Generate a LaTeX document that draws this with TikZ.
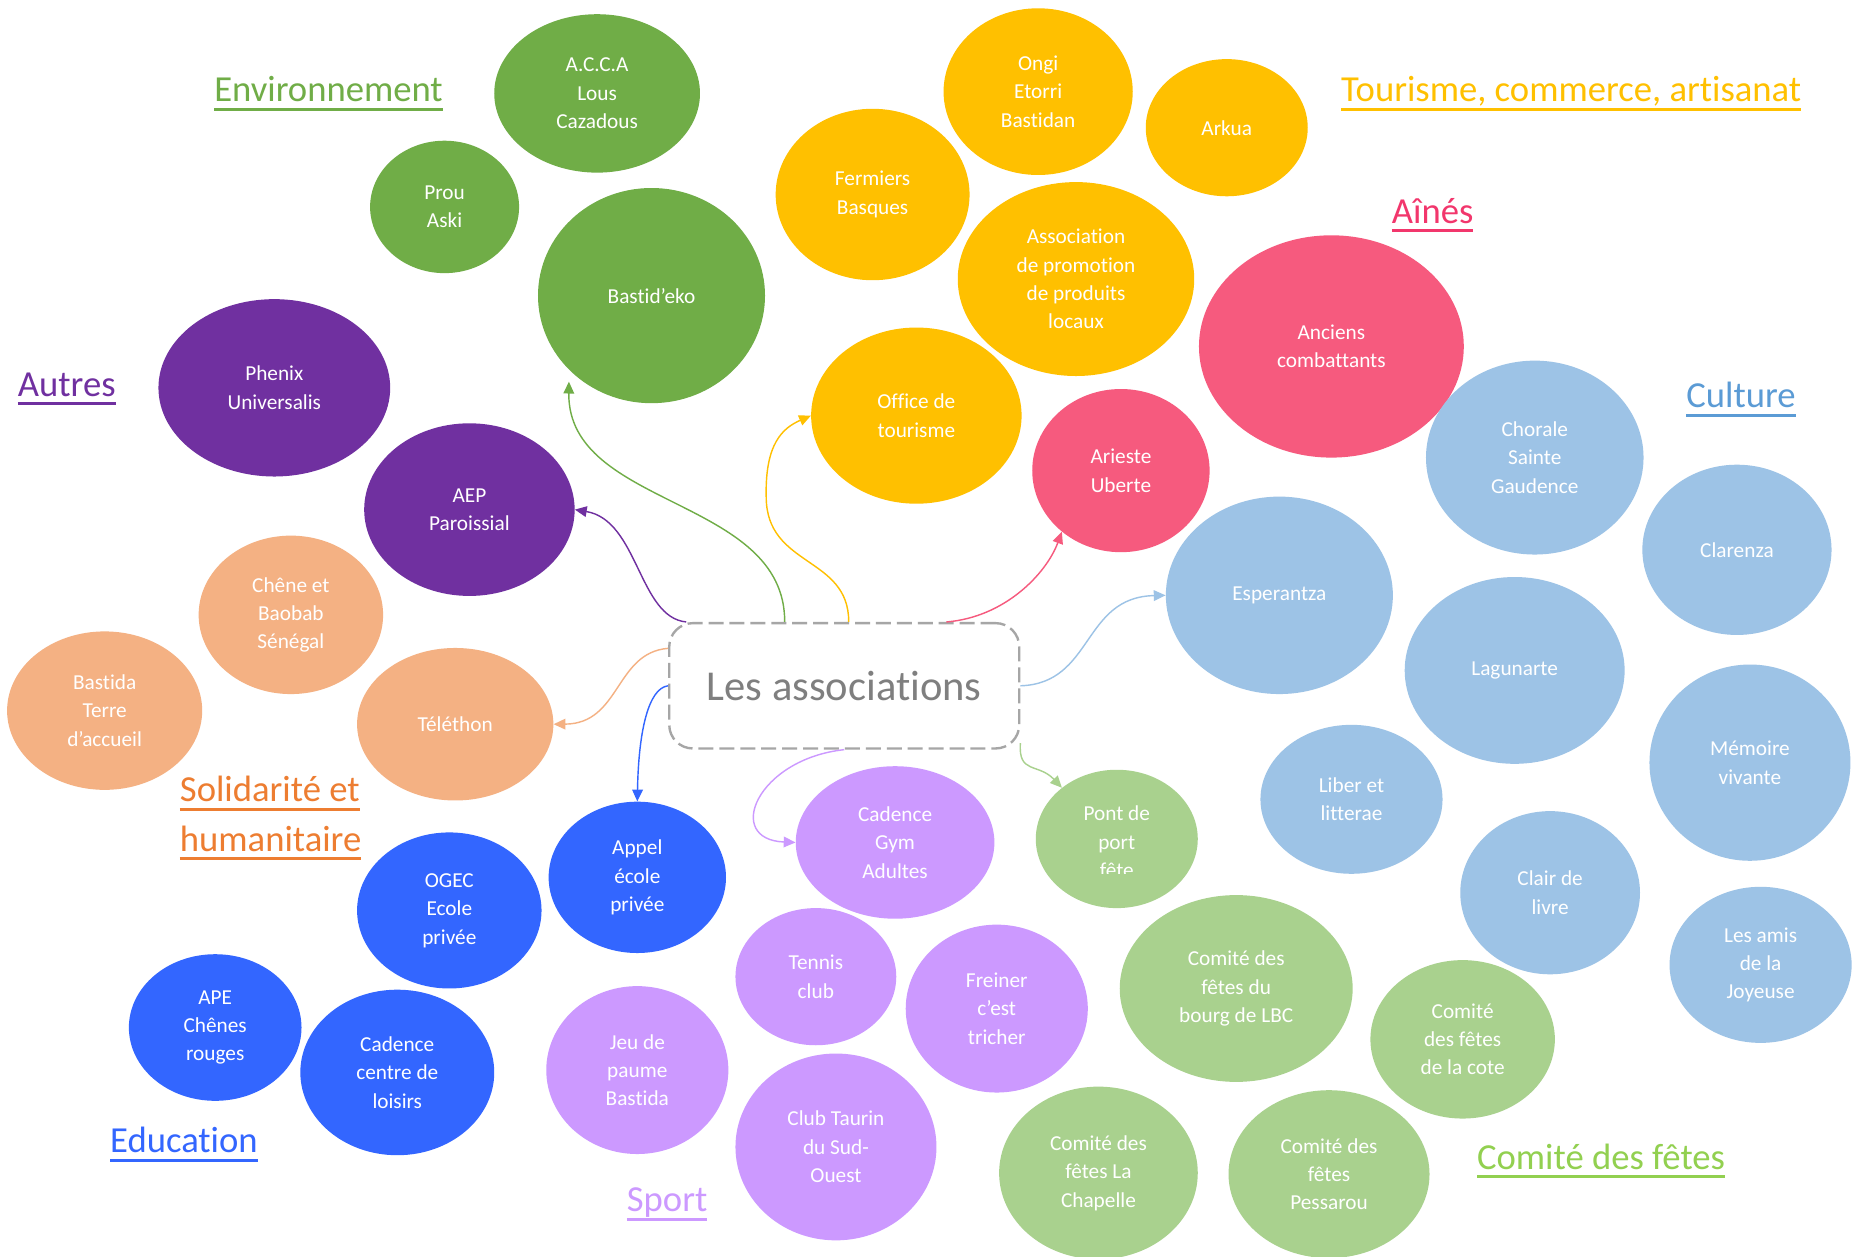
\documentclass[tikz,border=0pt]{standalone}
\usepackage{fontspec}
\setmainfont{Carlito}[Ligatures=NoCommon]
\usetikzlibrary{arrows.meta,shapes.geometric}
\definecolor{envgreen}{HTML}{70AD47}
\definecolor{tourgold}{HTML}{FFC000}
\definecolor{ainepink}{HTML}{F65A7E}
\definecolor{ainetext}{HTML}{F2366C}
\definecolor{cultblue}{HTML}{9DC3E6}
\definecolor{culttext}{HTML}{5B9BD5}
\definecolor{fetegreen}{HTML}{A9D18E}
\definecolor{fetetext}{HTML}{92D050}
\definecolor{sportlila}{HTML}{CC99FF}
\definecolor{educblue}{HTML}{3366FF}
\definecolor{solipeach}{HTML}{F4B183}
\definecolor{solitext}{HTML}{ED7D31}
\definecolor{autreviolet}{HTML}{7030A0}
\definecolor{boxgray}{HTML}{A6A6A6}
\definecolor{titlegray}{HTML}{7F7F7F}
% underlined group title
\newsavebox{\lblbox}
\newcommand{\ulabel}[1]{\sbox{\lblbox}{#1}\rlap{\rule[-7.5pt]{\wd\lblbox}{2.5pt}}\usebox{\lblbox}}

\begin{document}
\begin{tikzpicture}[x=1pt,y=-1pt,
  asso/.style={ellipse,inner sep=0pt,text=white,align=center,
               font=\fontsize{18}{24}\selectfont},
  env/.style={asso,fill=envgreen},
  tour/.style={asso,fill=tourgold},
  aine/.style={asso,fill=ainepink},
  cult/.style={asso,fill=cultblue},
  fete/.style={asso,fill=fetegreen},
  sport/.style={asso,fill=sportlila},
  educ/.style={asso,fill=educblue},
  soli/.style={asso,fill=solipeach},
  autre/.style={asso,fill=autreviolet},
  cat/.style={anchor=base west,inner sep=0pt,font=\fontsize{31}{42}\selectfont},
  hub/.style={draw=boxgray,line width=2pt,dash pattern=on 12.7pt off 5pt,
              rounded corners=20pt,minimum width=296,minimum height=106,
              text=titlegray,font=\fontsize{36}{43}\selectfont},
  arr/.style={-{Triangle[length=10pt,width=9pt]},line width=1.2pt},
]
  \fill[white] (0,0) rectangle (1568,1063);
  \useasboundingbox (0,0) rectangle (1568,1063);

  % Environnement
  \node[env,minimum width=174,minimum height=134] (acca) at (505,79) {A.C.C.A\\Lous\\Cazadous};
  \node[env,minimum width=126,minimum height=112] (prou) at (376,175) {Prou\\Aski};
  \node[env,minimum width=192,minimum height=182] (bastideko) at (551,250) {Bastid’eko};

  % Tourisme, commerce, artisanat
  \node[tour,minimum width=160,minimum height=141] (ongi) at (878,77.5) {Ongi\\Etorri\\Bastidan};
  \node[tour,minimum width=137,minimum height=116] (arkua) at (1037.5,108) {Arkua};
  \node[tour,minimum width=164,minimum height=145] (fermiers) at (738,164.5) {Fermiers\\Basques};
  \node[tour,minimum width=200,minimum height=164] (promo) at (910,236) {Association\\de promotion\\de produits\\locaux};
  \node[tour,minimum width=178,minimum height=149] (office) at (775,351.5) {Office de\\tourisme};

  % Aines
  \node[aine,minimum width=224,minimum height=188] (anciens) at (1126,293) {Anciens\\combattants};
  \node[aine,minimum width=150,minimum height=138] (arieste) at (948,398) {Arieste\\Uberte};

  % Culture
  \node[cult,minimum width=184,minimum height=164] (chorale) at (1298,387) {Chorale\\Sainte\\Gaudence};
  \node[cult,minimum width=160,minimum height=144] (clarenza) at (1469,465) {Clarenza};
  \node[cult,minimum width=192,minimum height=167] (esperantza) at (1082,503.5) {Esperantza};
  \node[cult,minimum width=186,minimum height=158] (lagunarte) at (1281,567) {Lagunarte};
  \node[cult,minimum width=170,minimum height=166] (memoire) at (1480,645) {Mémoire\\vivante};
  \node[cult,minimum width=154,minimum height=126] (liber) at (1143,676) {Liber et\\litterae};
  \node[cult,minimum width=152,minimum height=138] (clair) at (1311,755) {Clair de\\livre};
  \node[cult,minimum width=154,minimum height=132] (amis) at (1489,816) {Les amis\\de la\\Joyeuse};

  % Comite des fetes
  \node[fete,minimum width=137,minimum height=117] (pont) at (944.5,709.5) {};
  \begin{scope}
    \clip (870,650) rectangle (1020,739);
    \node[asso] (ponttxt) at (944.5,712) {Pont de\\port\\fête};
  \end{scope}
  \node[fete,minimum width=197,minimum height=158] (bourg) at (1045.5,836) {Comité des\\fêtes du\\bourg de LBC};
  \node[fete,minimum width=156,minimum height=134] (cote) at (1237,879) {Comité\\des fêtes\\de la cote};
  \node[fete,minimum width=168,minimum height=146] (chapelle) at (929,992) {Comité des\\fêtes La\\Chapelle};
  \node[fete,minimum width=170,minimum height=142] (pessarou) at (1124,993) {Comité des\\fêtes\\Pessarou};

  % Sport
  \node[sport,minimum width=168,minimum height=129] (cadgym) at (757,712.5) {Cadence\\Gym\\Adultes};
  \node[sport,minimum width=136,minimum height=116] (tennis) at (690,826) {Tennis\\club};
  \node[sport,minimum width=154,minimum height=142] (freiner) at (843,853) {Freiner\\c’est\\tricher};
  \node[sport,minimum width=154,minimum height=142] (paume) at (539,905) {Jeu de\\paume\\Bastida};
  \node[sport,minimum width=170,minimum height=158] (taurin) at (707,970) {Club Taurin\\du Sud-\\Ouest};

  % Education
  \node[educ,minimum width=150,minimum height=128] (appel) at (539,742) {Appel\\école\\privée};
  \node[educ,minimum width=156,minimum height=132] (ogec) at (380,770) {OGEC\\Ecole\\privée};
  \node[educ,minimum width=146,minimum height=124] (ape) at (182,869) {APE\\Chênes\\rouges};
  \node[educ,minimum width=164,minimum height=140] (cadloisirs) at (336,907) {Cadence\\centre de\\loisirs};

  % Solidarite et humanitaire
  \node[soli,minimum width=156,minimum height=134] (chene) at (246,520) {Chêne et\\Baobab\\Sénégal};
  \node[soli,minimum width=165,minimum height=134] (terre) at (88.5,601) {Bastida\\Terre\\d’accueil};
  \node[soli,minimum width=166,minimum height=129] (telethon) at (385,612.5) {Téléthon};

  % Autres
  \node[autre,minimum width=196,minimum height=150] (phenix) at (232,328) {Phenix\\Universalis};
  \node[autre,minimum width=178,minimum height=146] (aep) at (397,431) {AEP\\Paroissial};

  % Centre
  \node[hub] (hub) at (714,580) {Les associations};

  % Titles
  \node[cat,text=envgreen] (envlbl) at (181,86) {\ulabel{Environnement}};
  \node[cat,text=tourgold] (tourlbl) at (1134,86) {\ulabel{Tourisme, commerce, artisanat}};
  \node[cat,text=ainetext] (ainelbl) at (1177,189) {\ulabel{Aînés}};
  \node[cat,text=culttext] (cultlbl) at (1426,345) {\ulabel{Culture}};
  \node[cat,text=autreviolet] (autrelbl) at (15,335) {\ulabel{Autres}};
  \node[cat,text=solitext,align=left] (solilbl) at (152,720) {\ulabel{Solidarité et}\\\ulabel{humanitaire}};
  \node[cat,text=educblue] (educlbl) at (93,975) {\ulabel{Education}};
  \node[cat,text=sportlila] (sportlbl) at (530,1025) {\ulabel{Sport}};
  \node[cat,text=fetetext] (fetelbl) at (1249,989) {\ulabel{Comité des fêtes}};

  % Links
  \draw[arr,envgreen,shorten >=10pt] (hub.133) .. controls (664,420) and (480,430) .. (bastideko.222);
  \draw[arr,tourgold] (hub.86) .. controls (718,470) and (648,480) .. (648,420)
    .. controls (647,375) and (662,362) .. (office.west);
  \draw[arr,ainepink] (hub.32) .. controls (850,522) and (885,485) .. (arieste.226);
  \draw[arr,autreviolet] (hub.158) .. controls (540,522) and (540,440) .. (aep.east);
  \draw[arr,solipeach] (hub.168.5) .. controls (520,552) and (525,612) .. (telethon.east);
  \draw[arr,educblue] (hub.180) .. controls (548,582) and (540,620) .. (appel.north);
  \draw[arr,sportlila] (hub.south) .. controls (640,642) and (612,710) .. (cadgym.west);
  \draw[arr,fetegreen] (hub.-18) .. controls (861,655) and (878,645) .. (pont.137);
  \draw[arr,cultblue] (hub.east) .. controls (925,578) and (915,505) .. (esperantza.west);
\end{tikzpicture}
\end{document}
